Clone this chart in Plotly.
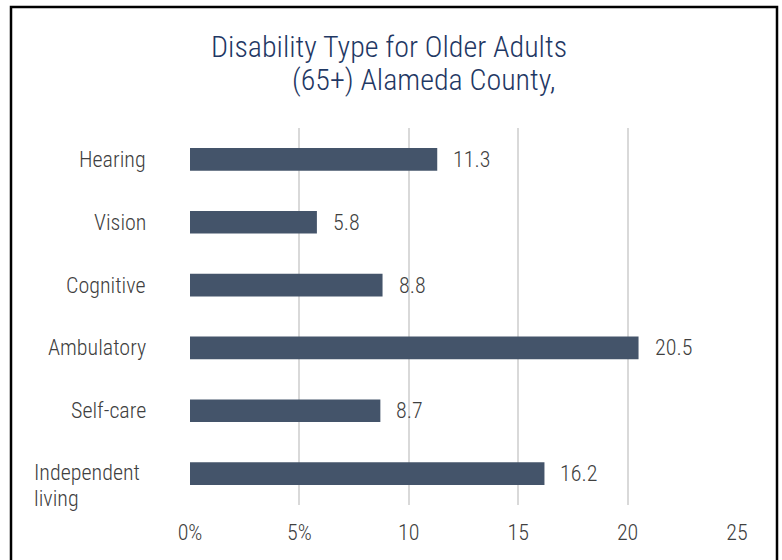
import plotly.graph_objects as go

categories = ["Hearing", "Vision", "Cognitive", "Ambulatory", "Self-care", "Independent living"]
values = [11.3, 5.8, 8.8, 20.5, 8.7, 16.2]
tick_vals = [0, 5, 10, 15, 20, 25]
tick_text = ["0%", "5%", "10", "15", "20", "25"]

FONT = "Roboto Condensed"
BAR = "#44546A"
TXT = "#404040"
TITLE = "#1F3864"
FS = 22

W, H = 782, 560
l, r, t, b = 190, 45, 128, 55
pw, ph = W - l - r, H - t - b

def px(xp):
    return (xp - l) / pw

def py(yp):
    return (H - b - yp) / ph

fig = go.Figure(go.Bar(
    x=values, y=list(range(len(categories))), orientation="h",
    marker=dict(color=BAR, line=dict(width=0)), width=0.36,
    hoverinfo="skip",
))

lab_font = dict(family=FONT, size=FS, color=TXT, weight=300)
ann = []
for i, (c, v) in enumerate(zip(categories, values)):
    ann.append(dict(x=v, y=i, xref="x", yref="y", text=f"{v}", showarrow=False,
                    xanchor="left", xshift=14, font=lab_font))
    words = c.split(" ")
    if len(words) == 1:
        ann.append(dict(x=px(148), y=i, xref="paper", yref="y", text=c, showarrow=False,
                        xanchor="right", font=lab_font))
    else:
        for k, w in enumerate(words):
            ann.append(dict(x=px(32), y=i, xref="paper", yref="y", text=w, showarrow=False,
                            xanchor="left", yshift=1 - 26 * k, font=lab_font))

ann.append(dict(x=px(389), y=py(46), xref="paper", yref="paper", text="Disability Type for Older Adults",
                showarrow=False, xanchor="center", yanchor="middle",
                font=dict(family=FONT, size=30, color=TITLE, weight=300)))
ann.append(dict(x=px(424), y=py(80), xref="paper", yref="paper", text="(65+) Alameda County,",
                showarrow=False, xanchor="center", yanchor="middle",
                font=dict(family=FONT, size=30, color=TITLE, weight=300)))

fig.update_layout(
    width=W, height=H,
    margin=dict(l=l, r=r, t=t, b=b),
    paper_bgcolor="white", plot_bgcolor="white",
    showlegend=False,
    annotations=ann,
    xaxis=dict(range=[0, 25], tickvals=tick_vals, ticktext=tick_text,
               showgrid=True, gridcolor="#D9D9D9", gridwidth=2, zeroline=False,
               showline=False, ticks="", ticklabelstandoff=12,
               tickfont=lab_font),
    yaxis=dict(range=[5.5, -0.5], tickvals=list(range(len(categories))), showticklabels=False,
               showgrid=False, zeroline=False, showline=False, ticks=""),
    shapes=[dict(type="rect", xref="paper", yref="paper",
                 x0=px(11), x1=px(777), y0=py(7), y1=py(580),
                 line=dict(color="#000000", width=2.5), layer="above")],
)

fig.write_html("out.html", config={"displayModeBar": False},
               post_script="document.body.style.margin='0';document.body.style.overflow='hidden';")
